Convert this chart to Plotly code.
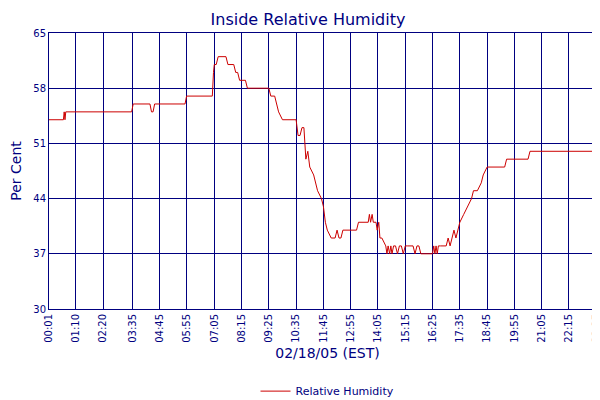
import plotly.graph_objects as go

times = ["00:01","00:38","00:40","00:42","00:44","00:46","03:33","03:37","04:20","04:24","04:28","04:32","05:50","05:54","07:00","07:03","07:05","07:10","07:15","07:35","07:40","07:55","08:00","08:05","08:10","08:25","08:30","09:25","09:30","09:40","09:45","09:50","10:00","10:35","10:40","10:45","10:50","10:55","11:00","11:05","11:10","11:20","11:30","11:40","11:45","11:50","11:55","12:05","12:15","12:20","12:25","12:30","12:35","12:45","13:10","13:15","13:40","13:43","13:46","13:50","13:53","14:00","14:03","14:07","14:10","14:15","14:25","14:28","14:31","14:35","14:38","14:41","14:45","14:50","14:55","15:00","15:05","15:10","15:15","15:20","15:35","15:40","15:45","15:50","15:55","16:25","16:28","16:31","16:34","16:37","16:40","16:45","17:00","17:05","17:10","17:15","17:20","17:25","17:30","17:35","17:45","17:55","18:05","18:10","18:20","18:30","18:35","18:45","19:30","19:35","20:30","20:35","23:30","23:35","23:50"]
values = [54,54,55,54,55,55,55,56,56,55,55,56,56,57,57,60,61,61,62,62,61,61,60,60,59,59,58,58,57,57,56,55,54,54,52,52,53,53,49,50,48,47,45,44,43,41,40,39,39,40,39,39,40,40,40,41,41,42,41,42,41,41,40,41,39,39,38,37,38,37,38,37,38,38,37,38,38,37,38,38,38,37,38,38,37,37,38,37,38,37,38,38,38,39,38,39,40,39,40,41,42,43,44,45,45,46,47,48,48,49,49,50,50,51,51]
xtick_labels = ["00:01","01:10","02:20","03:35","04:45","05:55","07:05","08:15","09:25","10:35","11:45","12:55","14:05","15:15","16:25","17:35","18:45","19:55","21:05","22:15","23:25","23:50"]
ytick_vals = [30,37,44,51,58,65]

def m(t):
    h, mm = t.split(":")
    return int(h)*60+int(mm)

navy = "#000080"
fig = go.Figure(go.Scatter(x=[m(t) for t in times], y=values, mode="lines",
                           line=dict(color="#cc0000", width=1), name="Relative Humidity",
                           showlegend=True))
fig.update_layout(
    width=600, height=400, paper_bgcolor="white", plot_bgcolor="white",
    margin=dict(l=41, r=2, t=25, b=82),
    title=dict(text="Inside Relative Humidity", x=0.5, xanchor="center", y=0.985, yanchor="top",
               font=dict(family="DejaVu Sans", size=16, color=navy)),
    font=dict(family="DejaVu Sans", size=11, color=navy),
    legend=dict(orientation="h", x=0.5, xanchor="center", y=-0.245, yanchor="top",
                font=dict(size=11, color=navy)),
    xaxis=dict(range=[m("00:01"), m("23:50")], tickvals=[m(t) for t in xtick_labels],
               ticktext=xtick_labels, tickangle=-90, showgrid=True, gridcolor=navy, gridwidth=1,
               showline=True, linecolor=navy, mirror=True, zeroline=False, automargin=False,
               tickfont=dict(size=10, color=navy),
               title=dict(text="02/18/05 (EST)", font=dict(size=14, color=navy), standoff=6)),
    yaxis=dict(range=[30, 65], tickvals=ytick_vals, showgrid=True, gridcolor=navy, gridwidth=1,
               showline=True, linecolor=navy, mirror=True, zeroline=False, automargin=False,
               tickfont=dict(size=10, color=navy),
               title=dict(text="Per Cent", font=dict(size=14, color=navy), standoff=8)),
)
fig.write_html("out.html")
